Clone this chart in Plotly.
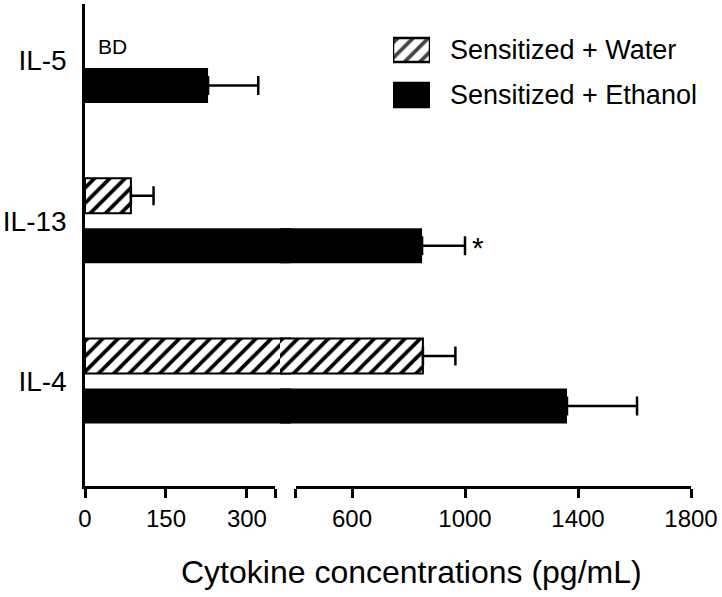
import plotly.graph_objects as go

# ---------------- data ----------------
categories = ['IL-4', 'IL-13', 'IL-5']
water = [851, 85, None]          # IL-5 below detection (BD)
water_err = [115, 42, None]
ethanol = [1361, 848, 228]
ethanol_err = [248, 152, 93]
series_names = ['Sensitized + Water', 'Sensitized + Ethanol']
ticks_low = [0, 150, 300]
ticks_high = [600, 1000, 1400, 1800]
break_low = 352     # end of first axis segment
break_high = 400    # start of second axis segment
x_max = 1800
x_title = 'Cytokine concentrations (pg/mL)'

# ---------------- layout geometry (pixels) ----------------
W, H = 722, 597
L, R, T, B = 85, 691, 4, 486
PW, PH = R - L, B - T
seg1_end_px = 275.0
seg2_start_px = 295.5
k1 = (seg1_end_px - L) / break_low                 # px per unit, segment 1
k2 = (R - seg2_start_px) / (x_max - break_high)    # px per unit, segment 2
zero2_px = R - x_max * k2                          # where 0 would sit on segment 2
HATCH = (zero2_px - L) / 9                         # hatch tile, phase-aligned
x1_end_px = 291.0                                  # left data panel ends here
x2_start_px = L + 18 * HATCH                       # right data panel starts here


def px_x(p):
    return (p - L) / PW


def px_y(p):
    return (B - p) / PH


FONT = 'Liberation Sans, Arial, sans-serif'
PATTERN = dict(shape='/', fgcolor='black', bgcolor='white', fgopacity=1,
               size=HATCH, solidity=0.35)

fig = go.Figure()

# bars drawn on two data axes (left part / right part of broken axis)
for xa in ('x', 'x2'):
    fig.add_trace(go.Bar(
        y=categories, x=ethanol, orientation='h', name=series_names[1],
        xaxis=xa, yaxis='y', showlegend=False,
        marker=dict(color='black', line=dict(width=0)),
        error_x=dict(type='data', array=ethanol_err,
                     arrayminus=[0] * len(ethanol), symmetric=False,
                     color='black', thickness=2.5, width=9.5),
    ))
    fig.add_trace(go.Bar(
        y=categories, x=water, orientation='h', name=series_names[0],
        xaxis=xa, yaxis='y', showlegend=False,
        marker=dict(color='white', line=dict(color='black', width=2),
                    pattern=PATTERN),
        error_x=dict(type='data', array=water_err,
                     arrayminus=[0] * len(water), symmetric=False,
                     color='black', thickness=2.5, width=9.5),
    ))

# empty traces so the two visible axis segments are drawn
for xa in ('x3', 'x4'):
    fig.add_trace(go.Scatter(x=[], y=[], xaxis=xa, yaxis='y', showlegend=False,
                             hoverinfo='skip'))

# legend swatches as a tiny bar subplot
fig.add_trace(go.Bar(
    y=[series_names[1], series_names[0]], x=[1, 1], orientation='h',
    xaxis='x5', yaxis='y5', showlegend=False, width=0.53,
    marker=dict(color=['black', 'white'], line=dict(color='black', width=2.5),
                pattern=dict(shape=['', '/'], fgcolor='black', bgcolor='white',
                             fgopacity=1, size=HATCH, solidity=0.35)),
))

axis_common = dict(showgrid=False, zeroline=False, automargin=False)
fig.update_layout(
    width=W, height=H,
    margin=dict(l=L, r=W - R, t=T, b=H - B),
    paper_bgcolor='white', plot_bgcolor='rgba(0,0,0,0)',
    barmode='group', bargap=0.375, bargroupgap=0.3,
    font=dict(family=FONT, color='black'),
    xaxis=dict(domain=[0, px_x(x1_end_px)],
               range=[0, (x1_end_px - L) / k1], visible=False, anchor='y',
               **axis_common),
    xaxis2=dict(domain=[px_x(x2_start_px), 1],
                range=[x_max - (R - x2_start_px) / k2, x_max], visible=False,
                anchor='y', **axis_common),
    xaxis3=dict(domain=[0, px_x(seg1_end_px)], range=[0, break_low], anchor='y',
                tickvals=ticks_low + [break_low],
                ticktext=[str(v) for v in ticks_low] + [''],
                showline=True, linewidth=2.5, linecolor='black',
                ticks='outside', ticklen=9, tickwidth=2.5, tickcolor='black',
                tickfont=dict(size=24, family=FONT), **axis_common),
    xaxis4=dict(domain=[px_x(seg2_start_px), 1], range=[break_high, x_max], anchor='y',
                tickvals=[break_high] + ticks_high,
                ticktext=[''] + [str(v) for v in ticks_high],
                showline=True, linewidth=2.5, linecolor='black',
                ticks='outside', ticklen=9, tickwidth=2.5, tickcolor='black',
                tickfont=dict(size=24, family=FONT), **axis_common),
    yaxis=dict(domain=[0, 1], anchor='x', type='category',
               categoryorder='array', categoryarray=categories,
               range=[-(B - 381) / 160.25, 2 + (60.5 - T) / 160.25],
               showline=True, linewidth=2.5, linecolor='black',
               ticks='outside', ticklen=10, tickcolor='rgba(0,0,0,0)',
               tickfont=dict(size=28, family=FONT), **axis_common),
    xaxis5=dict(domain=[px_x(393), px_x(430)], range=[0, 1], visible=False,
                anchor='y5', **axis_common),
    yaxis5=dict(domain=[px_y(117.5), px_y(27.5)], range=[-0.5, 1.5], visible=False,
                anchor='x5', type='category',
                categoryorder='array', categoryarray=[series_names[1], series_names[0]],
                **axis_common),
)

annotations = [
    # legend labels
    dict(text=series_names[0], xref='paper', yref='paper', x=px_x(448), y=px_y(50),
         xanchor='left', yanchor='middle', showarrow=False,
         font=dict(size=27, family=FONT)),
    dict(text=series_names[1], xref='paper', yref='paper', x=px_x(448), y=px_y(95),
         xanchor='left', yanchor='middle', showarrow=False,
         font=dict(size=27, family=FONT)),
    # BD label for IL-5 water
    dict(text='BD', xref='x', yref='y', x=0, y=categories[2], xanchor='left',
         yanchor='middle', xshift=11, yshift=14.5, showarrow=False,
         font=dict(size=21, family=FONT)),
    # significance asterisk for IL-13 ethanol
    dict(text='*', xref='x2', yref='y', x=ethanol[1] + ethanol_err[1], y=categories[1],
         xanchor='left', yanchor='middle', xshift=5, yshift=-27, showarrow=False,
         font=dict(size=30, family=FONT)),
    # x axis title
    dict(text=x_title, xref='paper', yref='paper', x=px_x(411), y=px_y(572),
         xanchor='center', yanchor='middle', showarrow=False,
         font=dict(size=32, family=FONT)),
]
fig.update_layout(annotations=annotations)

fig.write_html('out.html',
               config={'displayModeBar': False},
               post_script="document.body.style.margin='0';"
                           "document.body.style.overflow='hidden';")
